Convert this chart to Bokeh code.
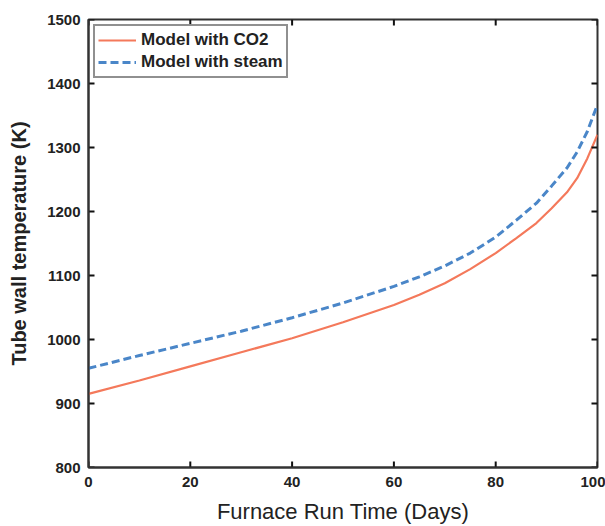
import math
from bokeh.plotting import figure
from bokeh.models import Range1d, FixedTicker, Legend, LegendItem
from bokeh.embed import file_html
from bokeh.resources import INLINE

days = [0, 10, 20, 30, 40, 50, 60, 65, 70, 75, 80, 84, 88, 91, 94, 96, 98, 100]
temp_co2 = [915, 936, 958, 980, 1002, 1027, 1054, 1070, 1088, 1110, 1135, 1158, 1182, 1205, 1230, 1252, 1283, 1320]
temp_steam = [955, 975, 994, 1013, 1034, 1057, 1083, 1098, 1115, 1135, 1160, 1186, 1213, 1240, 1268, 1293, 1325, 1367]
x_ticks = [0, 20, 40, 60, 80, 100]
y_ticks = [800, 900, 1000, 1100, 1200, 1300, 1400, 1500]

x_min, x_max = x_ticks[0], x_ticks[-1]
y_min, y_max = y_ticks[0], y_ticks[-1]

p = figure(width=605, height=526, output_backend="svg", toolbar_location=None,
           x_range=Range1d(x_min, x_max), y_range=Range1d(y_min, y_max))
p.min_border_left = 88
p.min_border_right = 8
p.min_border_top = 19
p.min_border_bottom = 58
p.background_fill_color = "white"
p.border_fill_color = "white"
p.outline_line_color = "#333333"
p.outline_line_width = 2
p.grid.visible = False

r1 = p.line(days, temp_co2, line_color="#f4795b", line_width=2.2)
r2 = p.line(days, temp_steam, line_color="#4a86c8", line_width=3, line_dash="8 4")

# inward tick marks on all four sides of the box (MATLAB style), fixed screen length
tick = dict(length=6, length_units="screen", line_color="#111111", line_width=2)
p.ray(x=x_ticks, y=[y_min] * len(x_ticks), angle=math.pi / 2, **tick)
p.ray(x=x_ticks, y=[y_max] * len(x_ticks), angle=-math.pi / 2, **tick)
p.ray(x=[x_min] * len(y_ticks), y=y_ticks, angle=0, **tick)
p.ray(x=[x_max] * len(y_ticks), y=y_ticks, angle=math.pi, **tick)

font = "Liberation Sans"
for ax in p.xaxis + p.yaxis:
    ax.major_tick_in = 0
    ax.major_tick_out = 0
    ax.minor_tick_in = 0
    ax.minor_tick_out = 0
    ax.axis_line_color = "#333333"
    ax.axis_line_width = 2
    ax.major_label_text_font = font
    ax.major_label_text_font_size = "15px"
    ax.major_label_text_font_style = "bold"
    ax.major_label_text_color = "#222222"

p.xaxis.ticker = FixedTicker(ticks=x_ticks)
p.yaxis.ticker = FixedTicker(ticks=y_ticks)
p.xaxis.axis_label = "Furnace Run Time (Days)"
p.xaxis.axis_label_text_font = font
p.xaxis.axis_label_text_font_size = "22px"
p.xaxis.axis_label_text_font_style = "normal"
p.xaxis.axis_label_text_color = "#222222"
p.xaxis.axis_label_standoff = 9
p.xaxis.major_label_standoff = 9
p.yaxis.axis_label = "Tube wall temperature (K)"
p.yaxis.axis_label_text_font = font
p.yaxis.axis_label_text_font_size = "20px"
p.yaxis.axis_label_text_font_style = "bold"
p.yaxis.axis_label_text_color = "#222222"
p.yaxis.axis_label_standoff = 14
p.yaxis.major_label_standoff = 8

legend = Legend(items=[LegendItem(label="Model with CO2", renderers=[r1]),
                       LegendItem(label="Model with steam", renderers=[r2])],
                location="top_left")
legend.label_text_font = font
legend.label_text_font_size = "17px"
legend.label_text_font_style = "bold"
legend.label_text_color = "#222222"
legend.border_line_color = "#222222"
legend.border_line_width = 2
legend.margin = 5
legend.padding = 3
legend.spacing = 0
legend.glyph_width = 38
legend.label_height = 22
legend.glyph_height = 22
legend.label_standoff = 5
p.add_layout(legend)

open("out.html", "w").write(file_html(p, INLINE))
